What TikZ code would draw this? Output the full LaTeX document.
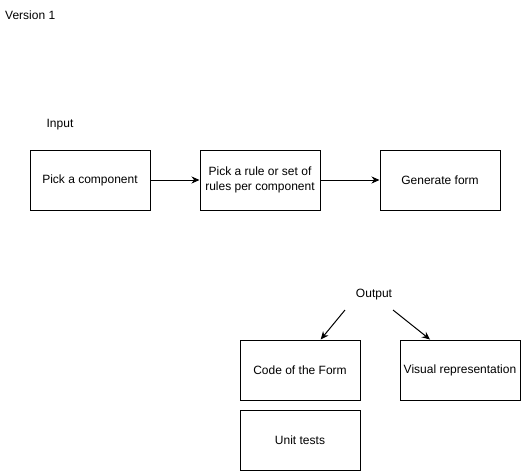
\documentclass[tikz,border=0pt]{standalone}
\usepackage{fontspec}
\setmainfont{Liberation Sans}
\usetikzlibrary{arrows.meta}
\begin{document}
\begin{tikzpicture}[x=1pt,y=-1pt,
  box/.style={draw=black,line width=1pt,minimum width=120pt,minimum height=60pt,inner sep=0pt,align=center,font=\fontsize{12}{14.5}\selectfont},
  lbl/.style={inner sep=0pt,font=\fontsize{12}{14.5}\selectfont},
  conn/.style={draw=black,line width=1pt,-{Stealth[length=8pt,width=7pt]}}]
\useasboundingbox[fill=white] (0,0) rectangle (521,471);
\node[lbl,anchor=west] (ver) at (5,15) {Version 1};
\node[lbl] (inp) at (60,125) {Input};
\node[box] (b1) at (90,180) {Pick a component};
\node[box] (b2) at (260,180) {Pick a rule or set of\\rules per component};
\node[box] (b3) at (440,180) {Generate form};
\node[lbl] (out) at (374,295) {Output};
\node[box] (code) at (300,370) {Code of the Form};
\node[box] (vis) at (460,370) {Visual representation};
\node[box] (unit) at (300,440) {Unit tests};
\coordinate (o1) at (345,310);
\coordinate (o2) at (393,310);
\draw[conn] (b1) -- (b2);
\draw[conn] (b2) -- (b3);
\draw[conn] (o1) -- ([xshift=20.7pt]code.north);
\draw[conn] (o2) -- ([xshift=-30pt]vis.north);
\end{tikzpicture}
\end{document}
